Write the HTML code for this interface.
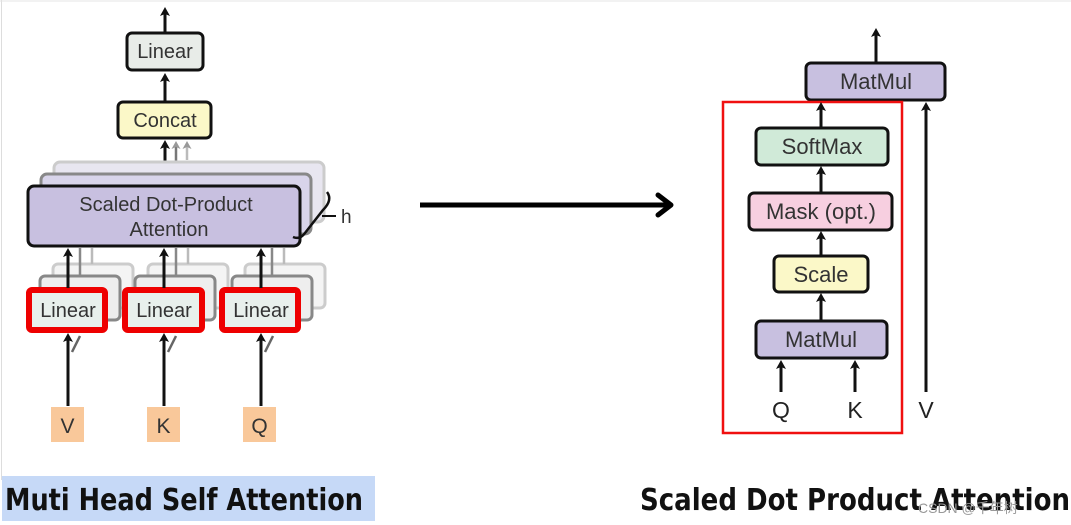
<!DOCTYPE html>
<html><head><meta charset="utf-8"><style>
html,body{margin:0;padding:0;background:#fff;}
svg{display:block;}
text{font-family:"Liberation Sans",sans-serif;}
</style></head><body>
<svg width="1071" height="525" viewBox="0 0 1071 525" xmlns="http://www.w3.org/2000/svg">
<defs>
<marker id="ah" markerWidth="9" markerHeight="10" refX="4" refY="5" orient="auto" markerUnits="userSpaceOnUse" viewBox="0 0 9 10"><path d="M0,0 L9,5 L0,10 L2,5 Z" fill="#111"/></marker>
<marker id="ahg" markerWidth="8" markerHeight="9" refX="4" refY="4.5" orient="auto" markerUnits="userSpaceOnUse" viewBox="0 0 8 9"><path d="M0,0 L8,4.5 L0,9 L2,4.5 Z" fill="#999"/></marker>
</defs>
<rect x="0" y="0" width="1071" height="525" fill="#fff"/>
<line x1="1.5" y1="0" x2="1.5" y2="480" stroke="#ddd" stroke-width="1"/>
<line x1="0" y1="1" x2="1071" y2="1" stroke="#e4e4e4" stroke-width="1"/>

<line x1="165" y1="32" x2="165" y2="12" stroke="#111" stroke-width="3" marker-end="url(#ah)"/>
<rect x="127" y="33" width="76" height="37" rx="5" fill="#e8ece8" stroke="#111" stroke-width="3"/>
<text x="165" y="58" font-size="20" text-anchor="middle" fill="#333">Linear</text>
<line x1="165" y1="101" x2="165" y2="78" stroke="#111" stroke-width="3" marker-end="url(#ah)"/>
<rect x="118" y="102" width="93" height="36" rx="5" fill="#fbf8c8" stroke="#111" stroke-width="3"/>
<text x="165" y="127" font-size="20" text-anchor="middle" fill="#333">Concat</text>
<line x1="187" y1="160" x2="187" y2="145" stroke="#bbb" stroke-width="2.5" marker-end="url(#ahg)"/>
<line x1="176" y1="172" x2="176" y2="145" stroke="#777" stroke-width="2.5" marker-end="url(#ahg)"/>
<line x1="165" y1="186" x2="165" y2="145" stroke="#111" stroke-width="3" marker-end="url(#ah)"/>

<rect x="54" y="162" width="270" height="60" rx="6" fill="#e8e6f0" stroke="#ccc" stroke-width="3"/>
<rect x="41" y="174" width="270" height="60" rx="6" fill="#d8d4ea" stroke="#888" stroke-width="3"/>
<rect x="28" y="186" width="272" height="60" rx="6" fill="#c8c0e0" stroke="#111" stroke-width="3"/>
<text x="166" y="211" font-size="20" text-anchor="middle" fill="#333">Scaled Dot-Product</text>
<text x="169" y="236" font-size="20" text-anchor="middle" fill="#333">Attention</text>
<path d="M327,192 Q333,200 323,210 L305,233 Q300,240 293,237" fill="none" stroke="#111" stroke-width="2.5"/>
<line x1="322" y1="216" x2="336" y2="216" stroke="#111" stroke-width="2"/>
<text x="341" y="223" font-size="19" fill="#333">h</text>

<g>
<rect x="53" y="264" width="80" height="44" rx="5" fill="#f4f4f4" stroke="#ccc" stroke-width="3"/>
<rect x="40" y="276" width="80" height="44" rx="5" fill="#eee" stroke="#888" stroke-width="3"/>
<rect x="148" y="264" width="80" height="44" rx="5" fill="#f4f4f4" stroke="#ccc" stroke-width="3"/>
<rect x="135" y="276" width="80" height="44" rx="5" fill="#eee" stroke="#888" stroke-width="3"/>
<rect x="245" y="264" width="80" height="44" rx="5" fill="#f4f4f4" stroke="#ccc" stroke-width="3"/>
<rect x="232" y="276" width="80" height="44" rx="5" fill="#eee" stroke="#888" stroke-width="3"/>
<line x1="80" y1="276" x2="80" y2="248" stroke="#888" stroke-width="2.5"/>
<line x1="92" y1="264" x2="92" y2="248" stroke="#bbb" stroke-width="2.5"/>
<line x1="176" y1="276" x2="176" y2="248" stroke="#888" stroke-width="2.5"/>
<line x1="188" y1="264" x2="188" y2="248" stroke="#bbb" stroke-width="2.5"/>
<line x1="272" y1="276" x2="272" y2="248" stroke="#888" stroke-width="2.5"/>
<line x1="284" y1="264" x2="284" y2="248" stroke="#bbb" stroke-width="2.5"/>
<rect x="29" y="290" width="76" height="40" rx="3" fill="#e8f0ec" stroke="#e00" stroke-width="6"/>
<rect x="125" y="290" width="77" height="40" rx="3" fill="#e8f0ec" stroke="#e00" stroke-width="6"/>
<rect x="222" y="290" width="76" height="40" rx="3" fill="#e8f0ec" stroke="#e00" stroke-width="6"/>
<text x="68" y="317" font-size="20" text-anchor="middle" fill="#333">Linear</text>
<text x="164" y="317" font-size="20" text-anchor="middle" fill="#333">Linear</text>
<text x="261" y="317" font-size="20" text-anchor="middle" fill="#333">Linear</text>
<line x1="68" y1="288" x2="68" y2="253" stroke="#111" stroke-width="3" marker-end="url(#ah)"/>
<line x1="164" y1="288" x2="164" y2="253" stroke="#111" stroke-width="3" marker-end="url(#ah)"/>
<line x1="261" y1="288" x2="261" y2="253" stroke="#111" stroke-width="3" marker-end="url(#ah)"/>
<line x1="72" y1="352" x2="80" y2="336" stroke="#666" stroke-width="2.5"/>
<line x1="168" y1="352" x2="176" y2="336" stroke="#666" stroke-width="2.5"/>
<line x1="265" y1="352" x2="273" y2="336" stroke="#666" stroke-width="2.5"/>
<line x1="68" y1="406" x2="68" y2="338" stroke="#111" stroke-width="3" marker-end="url(#ah)"/>
<line x1="164" y1="406" x2="164" y2="338" stroke="#111" stroke-width="3" marker-end="url(#ah)"/>
<line x1="261" y1="406" x2="261" y2="338" stroke="#111" stroke-width="3" marker-end="url(#ah)"/>
</g>
<rect x="51" y="407" width="33" height="35" fill="#f9c89a"/>
<rect x="147" y="407" width="33" height="35" fill="#f9c89a"/>
<rect x="243" y="407" width="33" height="35" fill="#f9c89a"/>
<text x="67.5" y="433" font-size="21" text-anchor="middle" fill="#333">V</text>
<text x="163.5" y="433" font-size="21" text-anchor="middle" fill="#333">K</text>
<text x="259.5" y="433" font-size="21" text-anchor="middle" fill="#333">Q</text>

<rect x="2" y="476" width="373" height="45" fill="#c6d9f7"/>
<text x="5" y="510" font-size="30" font-weight="bold" fill="#111" style="font-family:'DejaVu Sans','Liberation Sans',sans-serif" textLength="358" lengthAdjust="spacingAndGlyphs">Muti Head Self Attention</text>

<line x1="420" y1="205" x2="668" y2="205" stroke="#000" stroke-width="5"/>
<path d="M658,195 L671,205 L658,215" fill="none" stroke="#000" stroke-width="5" stroke-linecap="round" stroke-linejoin="round"/>

<line x1="876" y1="62" x2="876" y2="33" stroke="#111" stroke-width="3" marker-end="url(#ah)"/>
<rect x="806" y="63" width="139" height="37" rx="5" fill="#c8c0e0" stroke="#111" stroke-width="3"/>
<text x="876" y="89" font-size="22" text-anchor="middle" fill="#333">MatMul</text>
<rect x="723" y="102" width="179" height="331" fill="none" stroke="#f01010" stroke-width="2.5"/>
<line x1="821" y1="127" x2="821" y2="107" stroke="#111" stroke-width="3" marker-end="url(#ah)"/>
<rect x="756" y="128" width="132" height="37" rx="5" fill="#d0ead8" stroke="#111" stroke-width="3"/>
<text x="822" y="154" font-size="22" text-anchor="middle" fill="#333">SoftMax</text>
<line x1="821" y1="192" x2="821" y2="171" stroke="#111" stroke-width="3" marker-end="url(#ah)"/>
<rect x="749" y="193" width="143" height="37" rx="5" fill="#f7cfe0" stroke="#111" stroke-width="3"/>
<text x="821" y="219" font-size="22" text-anchor="middle" fill="#333">Mask (opt.)</text>
<line x1="821" y1="255" x2="821" y2="236" stroke="#111" stroke-width="3" marker-end="url(#ah)"/>
<rect x="774" y="256" width="94" height="36" rx="5" fill="#fbf8c8" stroke="#111" stroke-width="3"/>
<text x="821" y="282" font-size="22" text-anchor="middle" fill="#333">Scale</text>
<line x1="821" y1="320" x2="821" y2="298" stroke="#111" stroke-width="3" marker-end="url(#ah)"/>
<rect x="756" y="321" width="131" height="37" rx="5" fill="#c8c0e0" stroke="#111" stroke-width="3"/>
<text x="821" y="347" font-size="22" text-anchor="middle" fill="#333">MatMul</text>
<line x1="781" y1="392" x2="781" y2="365" stroke="#111" stroke-width="3" marker-end="url(#ah)"/>
<line x1="855" y1="392" x2="855" y2="365" stroke="#111" stroke-width="3" marker-end="url(#ah)"/>
<line x1="926" y1="392" x2="926" y2="107" stroke="#111" stroke-width="3" marker-end="url(#ah)"/>
<text x="781" y="418" font-size="23" text-anchor="middle" fill="#222">Q</text>
<text x="855" y="418" font-size="23" text-anchor="middle" fill="#222">K</text>
<text x="926" y="418" font-size="23" text-anchor="middle" fill="#222">V</text>

<text x="640" y="510" font-size="30" font-weight="bold" fill="#111" style="font-family:'DejaVu Sans','Liberation Sans',sans-serif" textLength="430" lengthAdjust="spacingAndGlyphs">Scaled Dot Product Attention</text>
<text x="918" y="513" font-size="14" fill="#999" style="font-family:'Liberation Sans','Noto Sans CJK SC',sans-serif">CSDN @千年树</text>
</svg>
</body></html>
